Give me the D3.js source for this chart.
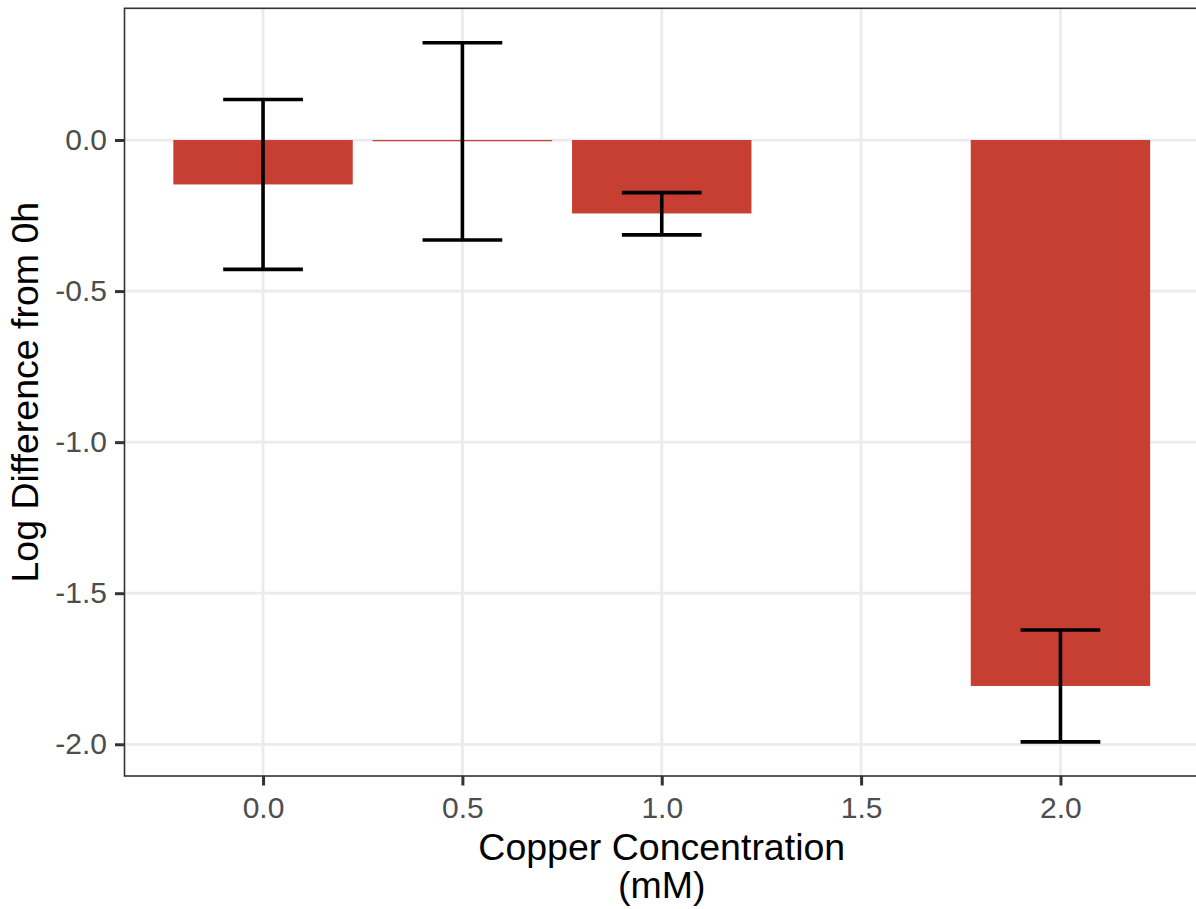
<!DOCTYPE html>
<html>
<head>
<meta charset="utf-8">
<script src="https://cdn.jsdelivr.net/npm/d3@7"></script>
<style>
  html, body { margin: 0; padding: 0; background: #fff; }
  svg { display: block; }
  text { font-family: "Liberation Sans", Arial, sans-serif; }
</style>
</head>
<body>
<svg id="chart" width="1196" height="909"></svg>
<script>
// Copper concentration (mM) and mean log difference from 0h, with error bar limits
const concentrations = [0.0, 0.5, 1.0, 2.0];
const logDiff = [-0.147, -0.004, -0.243, -1.807];
const errLow = [-0.428, -0.331, -0.314, -1.992];
const errHigh = [0.134, 0.322, -0.174, -1.622];

const xTicks = [0.0, 0.5, 1.0, 1.5, 2.0];
const yTicks = [0.0, -0.5, -1.0, -1.5, -2.0];

const barWidth = 0.45;   // in data units
const capWidth = 0.2;    // error bar cap width, data units

const panel = { left: 124.5, top: 8.3, right: 1199, bottom: 776 };

const svg = d3.select("#chart");

const x = d3.scaleLinear()
  .domain([-0.3475, 2.3475])
  .range([panel.left, panel.right]);

const y = d3.scaleLinear()
  .domain([-2.105, 0.436])
  .range([panel.bottom, panel.top]);

// panel background
svg.append("rect")
  .attr("x", panel.left).attr("y", panel.top)
  .attr("width", panel.right - panel.left)
  .attr("height", panel.bottom - panel.top)
  .attr("fill", "#fff");

// major grid lines
const grid = svg.append("g").attr("class", "grid");
grid.selectAll("line.gx").data(xTicks).join("line")
  .attr("x1", d => x(d)).attr("x2", d => x(d))
  .attr("y1", panel.top).attr("y2", panel.bottom)
  .attr("stroke", "#EBEBEB").attr("stroke-width", 2.8);
grid.selectAll("line.gy").data(yTicks).join("line")
  .attr("x1", panel.left).attr("x2", panel.right)
  .attr("y1", d => y(d)).attr("y2", d => y(d))
  .attr("stroke", "#EBEBEB").attr("stroke-width", 2.8);

// bars, drawn from zero to the mean
svg.append("g").selectAll("rect").data(concentrations).join("rect")
  .attr("x", d => x(d - barWidth / 2))
  .attr("width", d => x(d + barWidth / 2) - x(d - barWidth / 2))
  .attr("y", (d, i) => y(Math.max(0, logDiff[i])))
  .attr("height", (d, i) => Math.abs(y(logDiff[i]) - y(0)))
  .attr("fill", "#C73E32");

// error bars
const eb = svg.append("g").attr("stroke", "#000").attr("stroke-width", 3.6).attr("fill", "none");
concentrations.forEach((c, i) => {
  eb.append("line")
    .attr("x1", x(c)).attr("x2", x(c))
    .attr("y1", y(errHigh[i])).attr("y2", y(errLow[i]));
  eb.append("line")
    .attr("x1", x(c - capWidth / 2)).attr("x2", x(c + capWidth / 2))
    .attr("y1", y(errHigh[i])).attr("y2", y(errHigh[i]));
  eb.append("line")
    .attr("x1", x(c - capWidth / 2)).attr("x2", x(c + capWidth / 2))
    .attr("y1", y(errLow[i])).attr("y2", y(errLow[i]));
});

// panel border
svg.append("rect")
  .attr("x", panel.left).attr("y", panel.top)
  .attr("width", panel.right - panel.left)
  .attr("height", panel.bottom - panel.top)
  .attr("fill", "none").attr("stroke", "#333").attr("stroke-width", 1.6);

// axes
const xAxis = svg.append("g")
  .attr("transform", `translate(0,${panel.bottom})`)
  .call(d3.axisBottom(x).tickValues(xTicks).tickFormat(d3.format(".1f")).tickSize(9.5).tickPadding(11));
const yAxis = svg.append("g")
  .attr("transform", `translate(${panel.left},0)`)
  .call(d3.axisLeft(y).tickValues(yTicks).tickFormat(d3.format(".1f")).tickSize(9.5).tickPadding(8));

[xAxis, yAxis].forEach(a => {
  a.select(".domain").remove();
  a.selectAll(".tick line").attr("stroke", "#333").attr("stroke-width", 3);
  a.selectAll(".tick text")
    .attr("fill", "#4D4D4D")
    .style("font-family", '"Liberation Sans", Arial, sans-serif')
    .style("font-size", "30px");
});
// d3's default minus sign is U+2212; use a plain hyphen as printed
yAxis.selectAll(".tick text").text(d => d3.format(".1f")(d).replace("\u2212", "-"));

// axis titles, centred on the panel
const panelMidX = (panel.left + panel.right) / 2;
svg.append("text")
  .attr("x", panelMidX).attr("y", 860)
  .attr("text-anchor", "middle")
  .style("font-size", "37.5px").attr("fill", "#000")
  .text("Copper Concentration");
svg.append("text")
  .attr("x", panelMidX).attr("y", 898)
  .attr("text-anchor", "middle")
  .style("font-size", "37.5px").attr("fill", "#000")
  .text("(mM)");
svg.append("text")
  .attr("transform", `translate(38,${(panel.top + panel.bottom) / 2}) rotate(-90)`)
  .attr("text-anchor", "middle")
  .style("font-size", "37.5px").attr("fill", "#000")
  .text("Log Difference from 0h");
</script>
</body>
</html>
